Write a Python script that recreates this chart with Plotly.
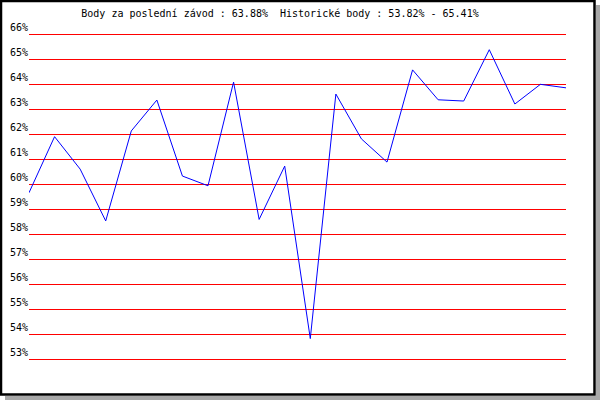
import plotly.graph_objects as go

# ---- data ----
race_index = list(range(22))
points_pct = [59.67, 61.92, 60.62, 58.54, 62.15, 63.39, 60.34, 59.95, 64.11, 58.60, 60.74,
              53.82, 63.63, 61.83, 60.90, 64.60, 63.40, 63.35, 65.41, 63.23, 64.02, 63.88]
tick_values = [53, 54, 55, 56, 57, 58, 59, 60, 61, 62, 63, 64, 65, 66]
tick_labels = [f"{v}%" for v in tick_values]
title_text = "Body za poslední závod : 63.88%  Historické body : 53.82% - 65.41%"

# ---- layout geometry (pixels) ----
W, H = 600, 400
L, R, T0, B0 = 29, 566, 35, 359          # pixel rows of 66% and 53%
Y_LO, Y_HI, PAD = 53, 66, 0.2
ppu = (B0 - T0) / (Y_HI - Y_LO)
T, B = T0 - PAD * ppu, B0 + PAD * ppu
pw, ph = R - L, B - T

def px(x):
    return (x - L) / pw

def py(y):
    return (B - y) / ph

fig = go.Figure()
fig.add_trace(go.Scatter(x=race_index, y=points_pct, mode="lines",
                         line=dict(color="#0000ff", width=1), hoverinfo="skip"))

shapes = [
    # grey shadow
    dict(type="rect", xref="paper", yref="paper", x0=px(5), x1=px(600), y0=py(396), y1=py(400),
         fillcolor="#a8a8a8", line=dict(width=0), layer="below"),
    dict(type="rect", xref="paper", yref="paper", x0=px(596), x1=px(600), y0=py(5), y1=py(400),
         fillcolor="#a8a8a8", line=dict(width=0), layer="below"),
    # black frame
    dict(type="rect", xref="paper", yref="paper", x0=px(1), x1=px(594.5), y0=py(1), y1=py(394.5),
         fillcolor="rgba(0,0,0,0)", line=dict(color="#000000", width=2.5), layer="below"),
]

fig.update_layout(
    width=W, height=H,
    margin=dict(l=L, r=W - R, t=T, b=H - B, pad=0, autoexpand=False),
    paper_bgcolor="#ffffff", plot_bgcolor="#ffffff",
    showlegend=False,
    shapes=shapes,
    title=dict(text=title_text, x=280 / W, xanchor="center", y=1 - 13.5 / H, yanchor="middle",
               font=dict(family="DejaVu Sans Mono", size=10, color="#000000")),
    xaxis=dict(range=[0, 21], showgrid=False, zeroline=False, showticklabels=False,
               ticks="", showline=False, fixedrange=True, automargin=False),
    yaxis=dict(range=[Y_LO - PAD, Y_HI + PAD], tickvals=tick_values, ticktext=tick_labels,
               showgrid=True, gridcolor="#ff0000", gridwidth=1, zeroline=False,
               ticks="", showline=False, ticklabelposition="outside top",
               tickfont=dict(family="DejaVu Sans Mono", size=10, color="#000000"),
               fixedrange=True, automargin=False),
)

fig.write_html("out.html", config={"displayModeBar": False},
               post_script="document.body.style.margin='0px';document.body.style.overflow='hidden';")
